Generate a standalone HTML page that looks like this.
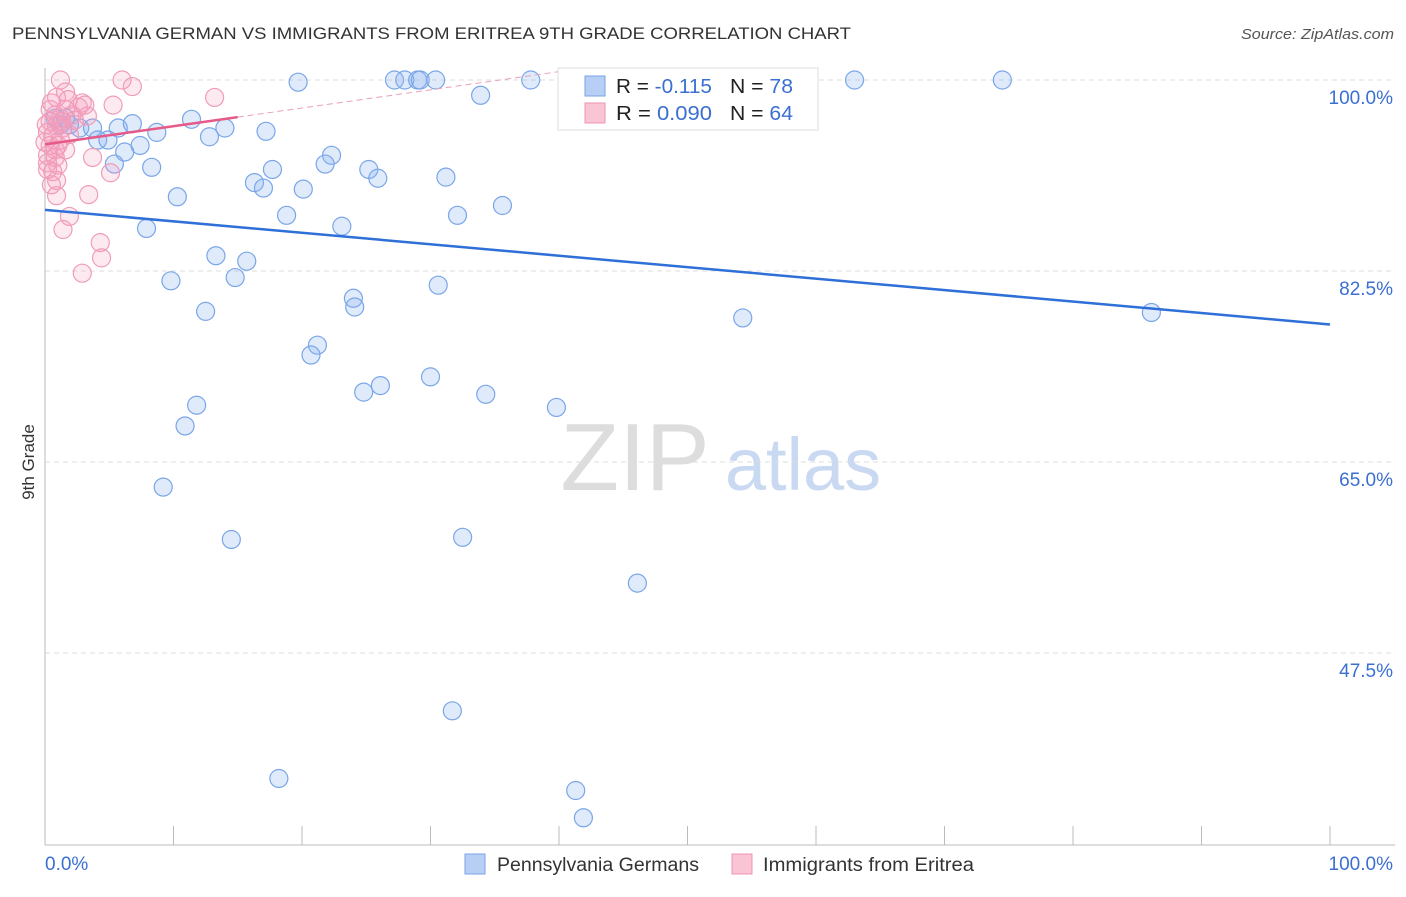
<!DOCTYPE html>
<html><head><meta charset="utf-8"><style>
body{margin:0;background:#fff;font-family:"Liberation Sans",sans-serif}
svg text{font-family:"Liberation Sans",sans-serif}
</style></head><body>
<svg width="1406" height="892" xmlns="http://www.w3.org/2000/svg">
<text x="12" y="39" font-size="17" fill="#333" textLength="839" lengthAdjust="spacingAndGlyphs">PENNSYLVANIA GERMAN VS IMMIGRANTS FROM ERITREA 9TH GRADE CORRELATION CHART</text>
<text x="1241" y="39" font-size="15" fill="#555" textLength="153" lengthAdjust="spacingAndGlyphs" font-style="italic">Source: ZipAtlas.com</text>
<text x="34" y="462" font-size="17" fill="#333" transform="rotate(-90 34 462)" text-anchor="middle">9th Grade</text>
<g><text x="635" y="490" font-size="96" fill="#ddd" text-anchor="middle" font-family="Liberation Serif">ZIP</text><text x="803" y="490" font-size="74" fill="#c9d9f2" text-anchor="middle">atlas</text></g>
<g id="grid"></g><g id="axes"></g><g id="pts"></g><g id="trend"></g>
<g>
<rect x="558" y="68" width="260" height="62" fill="#fff" stroke="#ddd"/>
<rect x="585" y="76" width="20" height="20" fill="#b7cff5" stroke="#7ba3e6"/>
<rect x="585" y="103" width="20" height="20" fill="#f9c4d3" stroke="#ee94b0"/>
<text x="616" y="93" font-size="20" fill="#222" textLength="96" lengthAdjust="spacingAndGlyphs">R = <tspan fill="#3b6fd1">-0.115</tspan></text>
<text x="730" y="93" font-size="20" fill="#222" textLength="63" lengthAdjust="spacingAndGlyphs">N = <tspan fill="#3b6fd1">78</tspan></text>
<text x="616" y="120" font-size="20" fill="#222" textLength="96" lengthAdjust="spacingAndGlyphs">R = <tspan fill="#3b6fd1">0.090</tspan></text>
<text x="730" y="120" font-size="20" fill="#222" textLength="63" lengthAdjust="spacingAndGlyphs">N = <tspan fill="#3b6fd1">64</tspan></text>
</g>
<g>
<rect x="465" y="854" width="20" height="20" fill="#b7cff5" stroke="#7ba3e6"/>
<text x="497" y="871" font-size="19" fill="#333" textLength="202" lengthAdjust="spacingAndGlyphs">Pennsylvania Germans</text>
<rect x="732" y="854" width="20" height="20" fill="#f9c4d3" stroke="#ee94b0"/>
<text x="763" y="871" font-size="19" fill="#333" textLength="211" lengthAdjust="spacingAndGlyphs">Immigrants from Eritrea</text>
</g>
</svg>
<script>
const yTicks=[100,82.5,65,47.5];
const yTickLabels=["100.0%","82.5%","65.0%","47.5%"];
const xTickLabels=["0.0%","100.0%"];
const blueX=[19.7,27.2,28.0,29.0,29.2,30.4,37.8,46.9,50.0,58.6,63.0,74.5,33.9,11.4,0.8,2.7,3.7,5.7,6.8,8.7,14.0,12.8,17.2,4.1,4.9,7.4,6.2,5.4,8.3,22.3,21.8,17.7,25.2,25.9,31.2,16.3,17.0,20.1,10.3,35.6,18.8,32.1,7.9,23.1,13.3,15.7,9.8,14.8,30.6,24.0,24.1,12.5,54.3,86.1,21.2,20.7,30.0,26.1,24.8,34.3,11.8,39.8,10.9,9.2,14.5,32.5,46.1,31.7,18.2,41.3,41.9,1.2,1.9,1.6];
const blueY=[99.8,100,100,100,100,100,100,100,100,100,100,100,98.6,96.4,96.5,95.6,95.6,95.6,96.0,95.2,95.6,94.8,95.3,94.5,94.5,94.0,93.4,92.3,92.0,93.1,92.3,91.8,91.8,91.0,91.1,90.6,90.1,90.0,89.3,88.5,87.6,87.6,86.4,86.6,83.9,83.4,81.6,81.9,81.2,80.0,79.2,78.8,78.2,78.7,75.7,74.8,72.8,72.0,71.4,71.2,70.2,70.0,68.3,62.7,57.9,58.1,53.9,42.2,36.0,34.9,32.4,95.9,95.9,96.5];
const pinkX=[1.2,6.0,6.8,1.6,0.9,13.2,1.8,5.3,2.9,2.6,0.4,0.8,1.2,2.1,3.3,0.4,0.9,1.4,0.2,0.6,1.2,0.4,0.8,1.6,0.2,0.8,3.7,0.2,1.0,0.6,5.1,0.9,0.5,3.4,0.9,1.9,1.4,4.3,4.4,2.9,0,0.1,1.6,2.3,1.9,0.2,1.3,0.5,3.1,1.0];
const pinkY=[100,100,99.4,98.9,98.4,98.4,98.2,97.7,97.9,97.5,97.3,96.8,96.5,96.8,96.7,96.2,95.8,95.6,95.2,94.9,94.5,94.0,93.6,93.6,93.1,92.9,92.9,92.4,92.2,91.6,91.5,90.8,90.4,89.5,89.4,87.5,86.3,85.1,83.7,82.3,94.3,95.9,97.3,96.3,95.0,91.8,96.2,97.9,97.7,94.0];
const blueTrend=[88.1,77.6];
const pinkTrend=[94.1,96.6];
const NS="http://www.w3.org/2000/svg";
const X=v=>45+v*12.85, Y=v=>80+(100-v)*10.914;
function mk(t,a,p){const e=document.createElementNS(NS,t);for(const k in a)e.setAttribute(k,a[k]);document.getElementById(p).appendChild(e);return e;}
yTicks.forEach((t,i)=>{
 const l=mk('line',{x1:45,x2:1395,y1:Y(t),y2:Y(t),stroke:'#ddd','stroke-dasharray':'5,4'},'grid');
 
 
 const tx=mk('text',{x:1393,y:Y(t)+24,'font-size':19,fill:'#3b6fd1','text-anchor':'end'},'axes');
 tx.textContent=yTickLabels[i];
 
 
});
let a=mk('line',{x1:45,x2:45,y1:68,y2:845,stroke:'#bbb'},'axes');


a=mk('line',{x1:45,x2:1395,y1:845,y2:845,stroke:'#bbb'},'axes');


for(let i=0;i<=10;i++){const t=mk('line',{x1:X(i*10),x2:X(i*10),y1:826,y2:845,stroke:'#bbb'},'axes');
 
 }
[[0,'start',45],[100,'end',1393]].forEach((d,i)=>{const t=mk('text',{x:d[2],y:870,'font-size':19,fill:'#3b6fd1','text-anchor':d[1]},'axes');t.textContent=xTickLabels[i];
 
 });
blueX.forEach((v,i)=>{const c=mk('circle',{cx:X(v),cy:Y(blueY[i]),r:9,fill:'rgba(140,180,240,0.28)',stroke:'#7aa6e8','stroke-width':1.2},'pts');
 
 });
pinkX.forEach((v,i)=>{const c=mk('circle',{cx:X(v),cy:Y(pinkY[i]),r:9,fill:'rgba(245,160,190,0.22)',stroke:'#f09cb8','stroke-width':1.2},'pts');
 
 });
let l=mk('line',{x1:X(0),y1:Y(blueTrend[0]),x2:X(100),y2:Y(blueTrend[1]),stroke:'#2e6fd8','stroke-width':2.5},'trend');


const ps=(pinkTrend[1]-pinkTrend[0])/15;
l=mk('line',{x1:X(0),y1:Y(pinkTrend[0]),x2:X(15),y2:Y(pinkTrend[1]),stroke:'#e65a8a','stroke-width':2.5},'trend');


l=mk('line',{x1:X(15),y1:Y(pinkTrend[1]),x2:X(40),y2:Y(pinkTrend[0]+ps*40),stroke:'#eaa0b8','stroke-width':1,'stroke-dasharray':'6,4'},'trend');


</script>
</body></html>
